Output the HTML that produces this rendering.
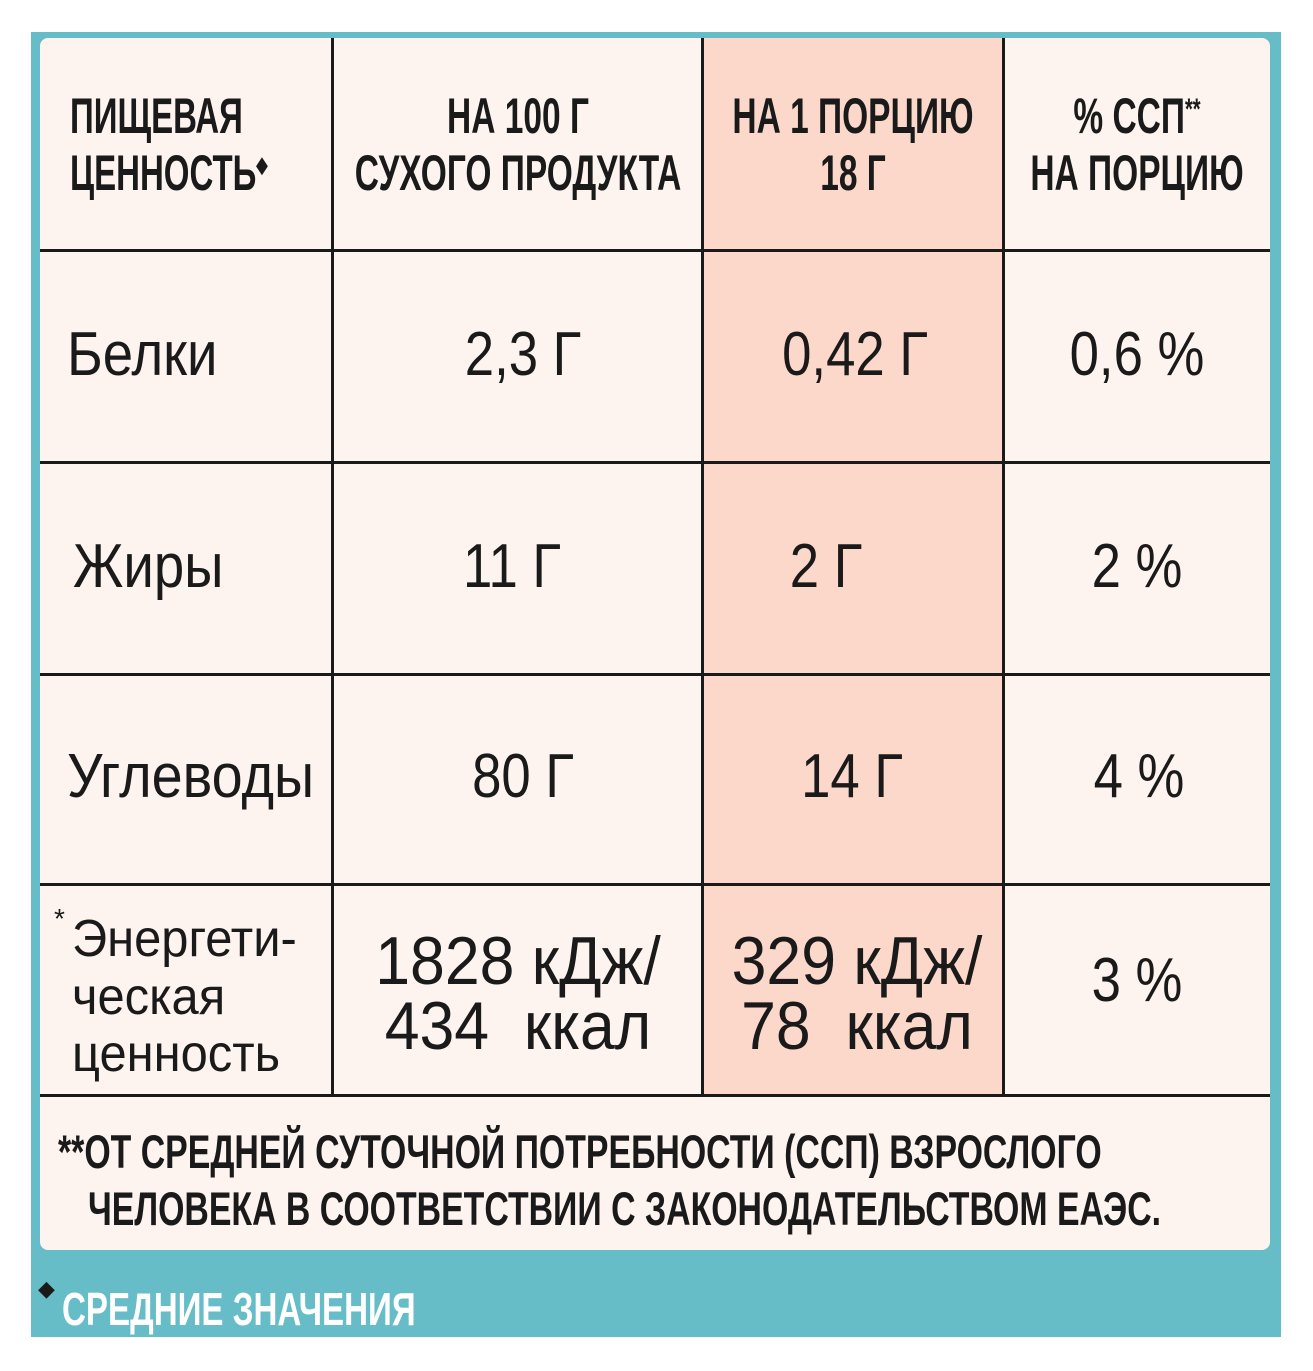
<!DOCTYPE html>
<html><head><meta charset="utf-8"><style>
body{margin:0;width:1313px;height:1371px;background:#fff;position:relative;overflow:hidden;font-family:"Liberation Sans",sans-serif;color:#1a1a1a}
.frame{position:absolute;left:31px;top:32px;width:1250px;height:1305px;background:#66bdc7}
.panel{position:absolute;left:40px;top:38px;width:1230px;height:1212px;background:#fdf3ef;border-radius:8px}
.hl{position:absolute;left:703px;top:38px;width:300px;height:1058px;background:#fbd8ca}
.v{position:absolute;width:3px;background:#1a1a1a;top:38px;height:1058px}
.h{position:absolute;height:3px;background:#1a1a1a;left:40px;width:1230px}
.c{position:absolute;white-space:nowrap;line-height:1}
.c span{display:inline-block;transform:translateX(-50%) scaleX(var(--s));}
.l{position:absolute;white-space:nowrap;line-height:1;transform-origin:left top;transform:scaleX(var(--s))}
.b{font-weight:bold}
</style></head><body>
<div class="frame"></div>
<div class="panel"></div>
<div class="hl"></div>
<div class="v" style="left:331px"></div>
<div class="v" style="left:701px"></div>
<div class="v" style="left:1002px"></div>
<div class="h" style="top:249px"></div>
<div class="h" style="top:461px"></div>
<div class="h" style="top:673px"></div>
<div class="h" style="top:883px"></div>
<div class="h" style="top:1094px"></div>

<div class="l b" style="left:70px;top:91px;font-size:50px;--s:.66">ПИЩЕВАЯ</div>
<div class="l b" style="left:70px;top:148px;font-size:50px;--s:.66">ЦЕННОСТЬ<span style="font-size:22px;vertical-align:18px">◆</span></div>
<div class="c b" style="left:518px;top:91px;font-size:50px;--s:.67"><span>НА 100 Г</span></div>
<div class="c b" style="left:518px;top:148px;font-size:50px;--s:.67"><span>СУХОГО ПРОДУКТА</span></div>
<div class="c b" style="left:853px;top:91px;font-size:50px;--s:.67"><span>НА 1 ПОРЦИЮ</span></div>
<div class="c b" style="left:853px;top:148px;font-size:50px;--s:.67"><span>18 Г</span></div>
<div class="c b" style="left:1137px;top:91px;font-size:50px;--s:.67"><span>% ССП<sup style="font-size:30px;vertical-align:14px">**</sup></span></div>
<div class="c b" style="left:1137px;top:148px;font-size:50px;--s:.67"><span>НА ПОРЦИЮ</span></div>

<div class="l" style="left:67px;top:324px;font-size:62px;--s:.88">Белки</div>
<div class="c" style="left:523px;top:324px;font-size:62px;--s:.85"><span>2,3 Г</span></div>
<div class="c" style="left:855px;top:324px;font-size:62px;--s:.85"><span>0,42 Г</span></div>
<div class="c" style="left:1137px;top:324px;font-size:62px;--s:.85"><span>0,6 %</span></div>

<div class="l" style="left:73px;top:536px;font-size:62px;--s:.88">Жиры</div>
<div class="c" style="left:512px;top:536px;font-size:62px;--s:.85"><span>11 Г</span></div>
<div class="c" style="left:826px;top:536px;font-size:62px;--s:.85"><span>2 Г</span></div>
<div class="c" style="left:1137px;top:536px;font-size:62px;--s:.85"><span>2 %</span></div>

<div class="l" style="left:67px;top:746px;font-size:62px;--s:.9">Углеводы</div>
<div class="c" style="left:523px;top:746px;font-size:62px;--s:.85"><span>80 Г</span></div>
<div class="c" style="left:852px;top:746px;font-size:62px;--s:.85"><span>14 Г</span></div>
<div class="c" style="left:1139px;top:746px;font-size:62px;--s:.85"><span>4 %</span></div>

<div class="l" style="left:54px;top:905px;font-size:28px">*</div>
<div class="l" style="left:72px;top:913px;font-size:52px;--s:.94">Энергети-</div>
<div class="l" style="left:72px;top:971px;font-size:52px;--s:.94">ческая</div>
<div class="l" style="left:72px;top:1028px;font-size:52px;--s:.94">ценность</div>
<div class="c" style="left:518px;top:927px;font-size:68px;--s:.92"><span>1828 кДж/</span></div>
<div class="c" style="left:518px;top:992px;font-size:68px;--s:.92"><span>434&nbsp; ккал</span></div>
<div class="c" style="left:857px;top:927px;font-size:68px;--s:.92"><span>329 кДж/</span></div>
<div class="c" style="left:857px;top:992px;font-size:68px;--s:.92"><span>78&nbsp; ккал</span></div>
<div class="c" style="left:1137px;top:950px;font-size:62px;--s:.85"><span>3 %</span></div>

<div class="l b" style="left:58px;top:1128px;font-size:47px;--s:.72">**ОТ СРЕДНЕЙ СУТОЧНОЙ ПОТРЕБНОСТИ (ССП) ВЗРОСЛОГО</div>
<div class="l b" style="left:88px;top:1185px;font-size:47px;--s:.72">ЧЕЛОВЕКА В СООТВЕТСТВИИ С ЗАКОНОДАТЕЛЬСТВОМ ЕАЭС.</div>

<div class="l" style="left:38px;top:1278px;font-size:22px;color:#1a1a1a">◆</div>
<div class="l b" style="left:62px;top:1286px;font-size:46px;color:#fff;--s:.72">СРЕДНИЕ ЗНАЧЕНИЯ</div>
</body></html>
